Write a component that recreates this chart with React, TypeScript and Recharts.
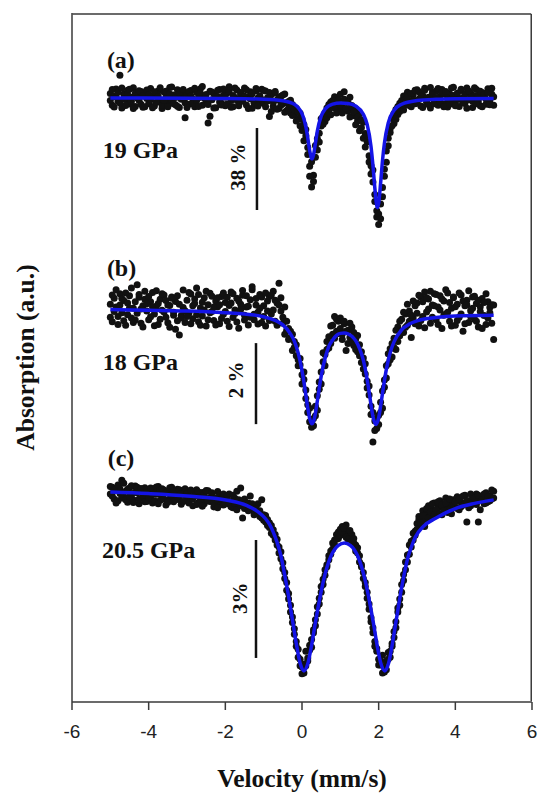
import React from 'react';
import {
  ComposedChart,
  Line,
  Scatter,
  XAxis,
  YAxis,
  ReferenceLine,
  ReferenceDot,
} from 'recharts';

// Source velocity of each channel (mm/s); both halves of the sweep share it
const velocity = [
  -5.0, -4.95, -4.9, -4.85, -4.8, -4.75, -4.7, -4.65, -4.6, -4.55,
  -4.5, -4.45, -4.4, -4.35, -4.3, -4.25, -4.2, -4.15, -4.1, -4.05,
  -4.0, -3.95, -3.9, -3.85, -3.8, -3.75, -3.7, -3.65, -3.6, -3.55,
  -3.5, -3.45, -3.4, -3.35, -3.3, -3.25, -3.2, -3.15, -3.1, -3.05,
  -3.0, -2.95, -2.9, -2.85, -2.8, -2.75, -2.7, -2.65, -2.6, -2.55,
  -2.5, -2.45, -2.4, -2.35, -2.3, -2.25, -2.2, -2.15, -2.1, -2.05,
  -2.0, -1.95, -1.9, -1.85, -1.8, -1.75, -1.7, -1.65, -1.6, -1.55,
  -1.5, -1.45, -1.4, -1.35, -1.3, -1.25, -1.2, -1.15, -1.1, -1.05,
  -1.0, -0.95, -0.9, -0.85, -0.8, -0.75, -0.7, -0.65, -0.6, -0.55,
  -0.5, -0.45, -0.4, -0.35, -0.3, -0.25, -0.2, -0.15, -0.1, -0.05,
  0.0, 0.05, 0.1, 0.15, 0.2, 0.25, 0.3, 0.35, 0.4, 0.45,
  0.5, 0.55, 0.6, 0.65, 0.7, 0.75, 0.8, 0.85, 0.9, 0.95,
  1.0, 1.05, 1.1, 1.15, 1.2, 1.25, 1.3, 1.35, 1.4, 1.45,
  1.5, 1.55, 1.6, 1.65, 1.7, 1.75, 1.8, 1.85, 1.9, 1.95,
  2.0, 2.05, 2.1, 2.15, 2.2, 2.25, 2.3, 2.35, 2.4, 2.45,
  2.5, 2.55, 2.6, 2.65, 2.7, 2.75, 2.8, 2.85, 2.9, 2.95,
  3.0, 3.05, 3.1, 3.15, 3.2, 3.25, 3.3, 3.35, 3.4, 3.45,
  3.5, 3.55, 3.6, 3.65, 3.7, 3.75, 3.8, 3.85, 3.9, 3.95,
  4.0, 4.05, 4.1, 4.15, 4.2, 4.25, 4.3, 4.35, 4.4, 4.45,
  4.5, 4.55, 4.6, 4.65, 4.7, 4.75, 4.8, 4.85, 4.9, 4.95,
  5.0,
];

// Relative transmission (%) per channel, 19 GPa (first and second half)
const spectrumA = [
  2.1, -3.4, 0.8, 4.2, -1.5, 10.5, -4.6, 1.9, -0.7, 3.6, -2.8, 0.3, 4.8, -3.9, 1.2, -1.1, 3.0, -4.3, 2.5, -0.2,
  -2.6, 4.4, 0.9, -3.7, 1.6, 3.3, -1.9, -4.8, 2.8, 0.4, -2.2, 4.9, -0.9, 1.4, -3.1, 3.8, -4.4, 0.6, 2.2, -9.2,
  1.7, -2.9, 3.5, -0.5, -4.1, 2.6, 0.1, 4.3, -3.3, 1.0, -1.8, -11.6, 3.1, -0.8, 2.0, -4.5, 0.7, 3.9, -2.4, 1.3,
  -3.6, 2.4, 5.2, -1.2, -4.0, 0.2, 3.7, -2.7, 1.8, -0.4, 4.6, -3.2, 0.5, 2.9, -4.7, -1.6, 3.4, 0.0, -2.0, 4.1,
  -2.5, 3.2, -1.4, -8.6, 1.5, -3.8, 2.3, -0.9, -4.9, 0.8, -2.7, 1.9, -5.8, -1.6, -6.9, -3.0, -7.8, -4.7, -9.6, -7.1,
  -9.8, -12.4, -17.5, -22.9, -31.6, -41.2, -35.8, -27.4, -24.1, -16.3, -13.0, -8.7, -10.9, -4.6, -6.2, -1.8, -3.9, 0.6, -2.2, -5.1,
  1.8, -4.4, 2.9, -1.3, -6.1, 0.4, -3.5, -8.2, -5.0, -10.6, -7.3, -13.8, -11.2, -16.5, -20.3, -26.8, -31.4, -38.9, -44.7, -52.3,
  -58.6, -49.1, -41.5, -33.0, -24.6, -18.7, -14.2, -9.5, -11.8, -5.3, -7.6, -2.4, -4.8, 0.9, -3.1, 2.7, -1.7, -4.0, 1.4, -2.6,
  3.8, -0.6, -3.7, 1.1, 4.5, -2.1, 0.3, -4.6, 2.4, -1.0, 3.2, -3.4, 0.7, 4.0, -2.8, 1.6, -4.2, 2.0, -0.3, 5.0,
  -1.9, 1.3, -3.9, 3.5, 0.1, -2.5, 4.7, -0.8, 2.3, -4.4, 1.0, 3.9, -1.4, -3.6, 2.6, 0.5, -2.9, 4.3, -1.1, 1.7,
  -3.3,
];
const spectrumA2 = [
  -1.2, 3.9, -4.2, 0.5, 2.7, -2.3, 4.6, -0.4, -3.5, 1.8, 4.1, -1.6, -4.9, 2.2, 0.0, 3.4, -2.9, 1.1, -4.0, 3.7,
  1.5, -0.8, -4.5, 2.9, -2.0, 0.7, 4.8, -3.3, -1.0, 3.1, -4.1, 1.9, 5.1, -2.6, 0.2, -3.8, 2.4, -0.6, 4.0, -2.2,
  -4.4, 3.0, 0.9, -2.5, 4.5, -1.3, -3.9, 2.1, 5.3, -0.1, 1.6, -3.0, -8.4, 2.8, -4.6, 0.6, 3.6, -1.8, -3.2, 4.2,
  0.4, -2.8, 3.3, -4.3, 1.2, 4.7, -0.9, -3.6, 2.5, -1.5, 0.8, 3.8, -4.8, -0.3, 2.0, -2.4, 4.4, -3.7, 1.0, -0.7,
  3.5, -4.0, 0.1, 2.6, -6.3, -1.9, 3.0, -5.2, 0.3, -3.4, 1.4, -6.6, -2.2, -4.8, -1.0, -8.1, -5.5, -10.7, -6.4, -12.9,
  -15.1, -19.8, -14.6, -26.2, -36.3, -29.5, -38.7, -22.0, -18.9, -20.4, -9.6, -12.2, -6.8, -9.1, -3.0, -7.7, -1.1, -4.6, -6.9, -0.8,
  -3.2, -7.0, -0.6, -4.9, -2.0, -8.8, -4.1, -6.6, -12.4, -8.9, -15.2, -10.1, -18.6, -22.7, -17.4, -29.6, -35.2, -33.4, -47.9, -55.1,
  -53.7, -55.9, -45.8, -36.2, -29.8, -22.1, -16.0, -12.9, -7.2, -9.8, -3.9, -6.3, -1.2, -5.6, -2.0, 0.3, -3.5, 2.1, -0.9, 3.6,
  -2.3, 2.9, 0.8, -4.4, 3.6, -0.2, -3.0, 4.9, 1.5, -2.6, 0.2, 4.4, -1.7, 2.7, -4.1, 3.0, -0.5, -2.9, 4.6, 1.2,
  -3.6, 2.2, -0.6, 4.1, -2.0, 1.8, -4.7, 3.3, 0.4, -1.5, 4.8, -2.7, 0.9, 3.1, -4.0, 1.6, -0.4, 2.5, -3.1, 4.5,
  0.6,
];

// Relative transmission (%) per channel, 18 GPa (first and second half)
const spectrumB = [
  0.12, -0.31, 0.27, 0.05, -0.18, 0.38, -0.09, 0.21, -0.4, 0.15, 0.33, -0.22, 0.02, -0.27, 0.6, 0.29, -0.35, 0.08, 0.44, -0.05,
  -0.26, 0.18, 0.41, -0.12, 0.07, -0.38, 0.24, -0.03, 0.35, -0.2, 0.1, -0.45, 0.3, -0.08, 0.19, -0.29, -0.64, -0.16, 0.04, -0.33,
  0.22, -0.1, 0.37, -0.24, 0.14, 0.52, -0.31, 0.03, -0.17, 0.28, -0.42, 0.11, 0.39, -0.06, -0.28, 0.2, 0.06, -0.36, 0.31, -0.13,
  0.16, -0.3, 0.09, 0.42, -0.21, -0.02, 0.27, -0.47, 0.12, 0.34, -0.15, 0.05, -0.39, 0.23, 0.48, -0.26, 0.1, -0.08, 0.36, -0.33,
  0.08, -0.42, 0.2, 0.31, -0.12, 0.44, -0.3, 0.15, 0.64, -0.05, -0.35, 0.05, -0.52, -0.48, -0.7, -0.62, -0.95, -0.88, -1.25, -1.38,
  -1.62, -1.74, -2.21, -2.36, -2.78, -2.92, -2.7, -2.63, -2.14, -1.98, -1.55, -1.3, -1.12, -0.8, -0.96, -0.42, -0.62, -0.18, -0.55, -0.3,
  -0.48, -0.75, -0.36, -1.02, -0.52, -0.7, -0.44, -0.9, -0.74, -1.05, -0.88, -1.32, -1.21, -1.6, -1.78, -2.12, -2.4, -3.28, -2.76, -2.95,
  -2.62, -2.55, -2.02, -1.93, -1.4, -1.35, -0.98, -1.18, -0.72, -1.0, -0.44, -0.66, -0.25, -0.58, -0.12, -0.4, -0.05, -0.7, -0.22, 0.08,
  0.15, -0.42, 0.3, -0.18, 0.42, -0.07, 0.25, -0.35, 0.1, 0.38, -0.26, 0.05, 0.33, -0.48, 0.2, -0.12, 0.4, -0.3, 0.02, 0.28,
  -0.4, 0.12, -0.2, 0.35, -0.55, 0.08, 0.22, -0.33, -0.04, 0.3, -0.25, 0.14, -0.44, 0.06, 0.26, -0.16, -0.38, 0.18, -0.09, 0.11,
  -0.75,
];
const spectrumB2 = [
  -0.2, 0.35, -0.06, 0.48, -0.38, 0.1, 0.26, -0.29, 0.4, -0.14, 0.03, 0.52, -0.33, 0.18, -0.1, 0.36, 0.0, -0.44, 0.24, 0.13,
  0.31, -0.19, 0.06, -0.41, 0.45, 0.14, -0.25, 0.38, -0.07, 0.21, -0.34, 0.09, 0.27, -0.15, -0.5, 0.33, 0.12, -0.22, 0.47, -0.04,
  -0.18, 0.41, -0.36, 0.08, 0.25, -0.14, 0.36, -0.4, 0.17, -0.02, 0.44, -0.26, -0.09, 0.32, 0.05, -0.39, 0.28, 0.11, -0.23, 0.4,
  -0.06, 0.29, -0.43, 0.15, 0.38, -0.11, -0.32, 0.2, -0.01, 0.46, -0.27, 0.33, 0.07, -0.2, 0.55, -0.13, 0.26, -0.37, 0.02, 0.3,
  -0.18, 0.4, -0.05, -0.28, 0.35, -0.02, 0.22, -0.4, 0.1, 0.28, -0.2, -0.62, -0.3, -0.75, -0.55, -1.02, -0.8, -1.15, -1.4, -1.22,
  -1.85, -1.55, -2.0, -2.55, -2.45, -2.8, -2.88, -2.4, -2.5, -1.8, -1.85, -1.08, -1.4, -1.0, -0.68, -0.85, -0.4, -0.72, -0.25, -0.6,
  -0.22, -0.62, -0.3, -0.55, -0.85, -0.35, -0.8, -0.58, -1.0, -0.65, -1.15, -1.05, -1.48, -1.35, -1.95, -1.9, -2.6, -2.55, -3.0, -2.7,
  -2.85, -2.3, -2.45, -1.75, -1.7, -1.1, -1.25, -0.85, -0.95, -0.52, -0.8, -0.3, -0.55, -0.08, -0.45, 0.12, -0.3, -0.15, 0.2, -0.36,
  -0.1, 0.34, -0.28, 0.18, -0.46, 0.28, 0.0, 0.44, -0.2, 0.08, 0.36, -0.38, -0.02, 0.25, -0.15, 0.48, -0.08, 0.16, -0.42, 0.3,
  0.06, -0.28, 0.4, -0.12, 0.2, -0.36, 0.1, 0.45, -0.18, 0.02, 0.32, -0.3, 0.22, -0.06, -0.48, 0.16, 0.38, -0.22, 0.04, -0.35,
  0.1,
];

// Relative transmission (%) per channel, 20.5 GPa (first and second half)
const spectrumC = [
  -0.05, 0.12, -0.18, 0.04, -0.22, 0.08, 0.3, -0.12, 0.02, -0.26, 0.1, -0.08, -0.2, 0.15, -0.02, -0.3, 0.06, -0.14, 0.11, -0.24,
  0.03, -0.16, -0.28, 0.09, -0.06, 0.14, -0.21, -0.1, 0.05, -0.33, 0.0, -0.17, 0.12, -0.25, -0.04, 0.07, -0.19, -0.31, 0.04, -0.09,
  -0.22, 0.02, -0.14, -0.35, -0.05, 0.06, -0.27, -0.12, -0.01, -0.3, -0.18, 0.03, -0.24, -0.09, -0.38, -0.15, 0.01, -0.26, -0.11, -0.33,
  -0.12, -0.3, -0.05, -0.24, -0.4, -0.16, 0.02, -0.33, 0.1, -0.66, -0.18, -0.37, -0.28, -0.1, -0.45, -0.35, -0.52, -0.3, -0.62, -0.2,
  -0.72, -0.6, -0.85, -0.78, -1.05, -0.96, -1.22, -1.2, -1.55, -1.52, -1.95, -2.05, -2.5, -2.58, -3.05, -3.18, -3.62, -3.8, -4.2, -4.25,
  -4.62, -4.38, -4.05, -4.22, -3.9, -3.75, -3.5, -3.4, -2.92, -2.85, -2.4, -2.35, -1.98, -1.85, -1.62, -1.5, -1.3, -1.22, -1.08, -1.02,
  -0.95, -0.88, -1.05, -0.84, -1.0, -1.12, -1.08, -1.3, -1.35, -1.55, -1.62, -1.9, -2.05, -2.4, -2.55, -2.98, -3.2, -3.58, -3.8, -4.05,
  -4.25, -4.4, -4.15, -4.58, -4.3, -4.08, -4.2, -3.85, -3.55, -3.3, -2.95, -2.72, -2.35, -2.1, -1.78, -1.6, -1.35, -1.25, -1.05, -1.1,
  -0.8, -0.62, -0.85, -0.48, -0.7, -0.55, -0.35, -0.62, -0.45, -0.28, -0.52, -0.4, -0.22, -0.58, -0.36, -0.15, -0.44, -0.3, -0.55, -0.2,
  -0.38, -0.12, -0.45, -0.26, -0.33, -0.08, -0.76, -0.22, -0.35, -0.15, -0.28, -0.05, -0.76, -0.2, -0.12, -0.3, -0.02, -0.25, -0.1, -0.18,
  0.02,
];
const spectrumC2 = [
  0.14, -0.1, 0.05, -0.28, 0.18, -0.04, -0.15, 0.22, -0.2, 0.07, -0.12, 0.16, -0.27, 0.0, 0.12, -0.18, 0.09, -0.08, -0.25, 0.06,
  -0.14, 0.1, -0.05, -0.22, 0.13, -0.3, 0.04, 0.08, -0.18, -0.02, -0.26, 0.11, -0.08, 0.02, -0.2, -0.12, 0.06, -0.04, -0.24, 0.08,
  -0.04, -0.28, 0.05, -0.18, -0.1, -0.32, 0.0, -0.2, -0.36, -0.06, 0.04, -0.22, -0.14, -0.02, -0.28, -0.2, -0.4, -0.08, -0.18, -0.05,
  -0.3, -0.1, -0.26, -0.38, -0.08, -0.28, -0.45, -0.2, -0.35, -0.22, -0.42, -0.3, -0.48, -0.4, -0.3, -0.58, -0.42, -0.55, -0.48, -0.66,
  -0.58, -0.76, -0.7, -0.9, -0.85, -1.1, -1.08, -1.35, -1.4, -1.7, -1.8, -2.2, -2.3, -2.72, -2.88, -3.32, -3.48, -3.92, -4.0, -4.42,
  -4.45, -4.6, -4.42, -4.3, -4.02, -3.95, -3.58, -3.25, -3.1, -2.7, -2.55, -2.22, -2.12, -1.9, -1.72, -1.58, -1.45, -1.35, -1.2, -1.18,
  -1.1, -1.02, -0.92, -1.15, -1.2, -0.98, -1.25, -1.18, -1.5, -1.42, -1.78, -1.85, -2.2, -2.3, -2.7, -2.85, -3.3, -3.45, -3.92, -3.98,
  -4.4, -4.3, -4.6, -4.45, -4.52, -4.25, -4.05, -3.92, -3.7, -3.45, -3.05, -2.88, -2.55, -2.25, -1.98, -1.78, -1.58, -1.4, -1.22, -1.0,
  -0.95, -0.7, -0.78, -0.6, -0.88, -0.42, -0.66, -0.5, -0.3, -0.58, -0.46, -0.25, -0.55, -0.33, -0.48, -0.28, -0.52, -0.18, -0.4, -0.35,
  -0.25, -0.42, -0.18, -0.38, -0.1, -0.3, -0.22, -0.4, -0.05, -0.26, -0.15, -0.32, -0.08, -0.45, -0.2, -0.05, -0.28, -0.12, -0.22, 0.05,
  -0.15,
];

// Fitted doublets: [velocity, relative transmission %]
const fitA = [
  [-5, 0], [-3, -0.1], [-2, -0.2], [-1, -0.52], [-0.5, -1.23], [-0.2, -2.91], [-0.1, -4.4], [0, -7.2],
  [0.05, -9.7], [0.1, -13.3], [0.15, -18.4], [0.2, -24.3], [0.26, -28.2], [0.3, -26.4], [0.35, -20.9],
  [0.4, -15.3], [0.5, -8.4], [0.6, -5.2], [0.8, -2.8], [1.0, -2.3], [1.2, -2.5], [1.4, -3.7], [1.6, -7.5],
  [1.7, -12.2], [1.8, -22.4], [1.85, -31.1], [1.9, -41.7], [1.95, -49.9], [1.97, -50.8], [2.0, -48.8],
  [2.05, -39.6], [2.1, -29.0], [2.15, -20.9], [2.25, -11.5], [2.4, -5.7], [2.6, -2.9], [3.0, -1.2],
  [3.5, -0.6], [4, -0.35], [5, -0.2],
];

const fitB = [
  [-5, -0.01], [-4, -0.03], [-3, -0.05], [-2, -0.09], [-1.5, -0.12], [-1, -0.19], [-0.7, -0.28],
  [-0.5, -0.39], [-0.3, -0.61], [-0.2, -0.79], [-0.1, -1.08], [0, -1.52], [0.05, -1.8], [0.1, -2.12],
  [0.15, -2.44], [0.2, -2.7], [0.26, -2.83], [0.3, -2.78], [0.35, -2.57], [0.4, -2.27], [0.5, -1.66],
  [0.6, -1.22], [0.7, -0.92], [0.8, -0.76], [0.9, -0.65], [1.0, -0.6], [1.1, -0.59], [1.2, -0.61],
  [1.3, -0.67], [1.4, -0.78], [1.5, -0.97], [1.6, -1.26], [1.7, -1.74], [1.75, -2.04], [1.8, -2.36],
  [1.85, -2.65], [1.93, -2.85], [2.0, -2.68], [2.05, -2.4], [2.1, -2.08], [2.2, -1.49], [2.3, -1.08],
  [2.4, -0.81], [2.6, -0.51], [2.8, -0.37], [3.0, -0.29], [3.5, -0.21], [4, -0.17], [5, -0.15],
];

const fitC = [
  [-5, 0], [-4, -0.04], [-3, -0.1], [-1.95, -0.21], [-1.45, -0.34], [-1.15, -0.5], [-0.95, -0.68],
  [-0.85, -0.82], [-0.75, -1.02], [-0.65, -1.28], [-0.55, -1.62], [-0.45, -2.12], [-0.35, -2.65],
  [-0.25, -3.25], [-0.15, -3.85], [-0.05, -4.35], [0.05, -4.55], [0.15, -4.37], [0.25, -3.9],
  [0.35, -3.32], [0.45, -2.78], [0.55, -2.3], [0.65, -1.92], [0.75, -1.64], [0.85, -1.46], [0.95, -1.36],
  [1.105, -1.3], [1.26, -1.36], [1.36, -1.46], [1.46, -1.64], [1.56, -1.92], [1.66, -2.3], [1.76, -2.78],
  [1.86, -3.32], [1.96, -3.9], [2.06, -4.37], [2.16, -4.55], [2.26, -4.35], [2.36, -3.85], [2.46, -3.25],
  [2.56, -2.65], [2.66, -2.12], [2.76, -1.68], [2.86, -1.38], [2.96, -1.14], [3.16, -0.88], [3.5, -0.66],
  [4.0, -0.42], [4.5, -0.29], [5.0, -0.2],
];

const velocityTicks = [-6, -4, -2, 0, 2, 4, 6];
const panelTags = ['(a)', '(b)', '(c)'];
const pressures = ['19 GPa', '18 GPa', '20.5 GPa'];
const scaleBarPercents = [38, 2, 3];
const scaleBarLabels = ['38 %', '2 %', '3%'];

const SERIF = "'Liberation Serif', 'Times New Roman', serif";
const SANS = "'Liberation Sans', Arial, sans-serif";
const AXIS_COLOR = '#3a3a3a';
const FIT_COLOR = '#1414e6';
const V_DOMAIN = [-6, 6];

const toPoints = (values: number[]) => values.map((y, i) => ({ v: velocity[i], y }));
const toFit = (pairs: number[][]) => pairs.map(([v, y]) => ({ v, y }));

// Each spectrum has its own vertical scale; the domains stack them in one frame.
const panels = [
  {
    axis: 'a',
    domain: [-279.9, 39.4],
    points: [...toPoints(spectrumA), ...toPoints(spectrumA2)],
    fit: toFit(fitA),
    tagAt: [-5.09, 17.6],
    pressureAt: [-5.2, -24.1],
    barAt: [-1.175, -13.9],
    barLabelAt: [-1.67, -32.0],
  },
  {
    axis: 'b',
    domain: [-9.7, 7.31],
    points: [...toPoints(spectrumB), ...toPoints(spectrumB2)],
    fit: toFit(fitB),
    tagAt: [-5.09, 1.01],
    pressureAt: [-5.2, -1.31],
    barAt: [-1.2, -0.84],
    barLabelAt: [-1.73, -1.75],
  },
  {
    axis: 'c',
    domain: [-5.34, 12.18],
    points: [...toPoints(spectrumC), ...toPoints(spectrumC2)],
    fit: toFit(fitC),
    tagAt: [-5.07, 0.86],
    pressureAt: [-5.22, -1.47],
    barAt: [-1.2, -1.22],
    barLabelAt: [-1.62, -2.7],
  },
];

// Closing edges of the frame, kept fully inside the plot rectangle
const [FRAME_BOTTOM, FRAME_TOP] = panels[0].domain;
const EDGE_V = 5.98;
const EDGE_V_START = -5.99;
const EDGE_TOP = FRAME_TOP - 0.5;
const EDGE_BOTTOM = FRAME_BOTTOM + 0.5;

const Dot = (p: any) => <circle cx={p.cx} cy={p.cy} r={3.5} fill="#111" />;

const textShape = (text: string, size: number, anchor: 'start' | 'middle', rotate = false) =>
  (p: any) => (
    <text
      x={p.cx}
      y={p.cy}
      textAnchor={anchor}
      dominantBaseline="central"
      fontFamily={SERIF}
      fontWeight="bold"
      fontSize={size}
      fill="#111"
      transform={rotate ? `rotate(-90, ${p.cx}, ${p.cy})` : undefined}
    >
      {text}
    </text>
  );

const yTitle = (props: any) => {
  const vb = props.viewBox;
  const x = vb.x + 25;
  const y = vb.y + vb.height / 2;
  return (
    <text
      x={x}
      y={y}
      textAnchor="middle"
      dominantBaseline="central"
      fontFamily={SERIF}
      fontWeight="bold"
      fontSize={25.5}
      fill="#111"
      transform={`rotate(-90, ${x}, ${y})`}
    >
      Absorption (a.u.)
    </text>
  );
};

const xTitle = (props: any) => {
  const vb = props.viewBox;
  return (
    <text
      x={vb.x + vb.width / 2}
      y={vb.y + 76}
      textAnchor="middle"
      dominantBaseline="central"
      fontFamily={SERIF}
      fontWeight="bold"
      fontSize={25.5}
      fill="#111"
    >
      Velocity (mm/s)
    </text>
  );
};

export default function App() {
  return (
    <div style={{ position: 'absolute', left: 0, top: 0 }}>
      <ComposedChart width={540} height={793} margin={{ top: 13, right: 8, bottom: 0, left: 0 }}>
        <XAxis
          dataKey="v"
          type="number"
          domain={V_DOMAIN}
          ticks={velocityTicks}
          allowDataOverflow
          height={91}
          stroke={AXIS_COLOR}
          strokeWidth={1.5}
          tickSize={8}
          tickMargin={15}
          tick={{ fill: '#222', fontSize: 19, fontFamily: SANS }}
          label={xTitle}
        />
        {panels.map((p, i) => (
          <YAxis
            key={p.axis}
            yAxisId={p.axis}
            type="number"
            domain={p.domain}
            allowDataOverflow
            hide={i > 0}
            width={72}
            tick={false}
            tickLine={false}
            stroke={AXIS_COLOR}
            strokeWidth={1.5}
            label={i === 0 ? yTitle : undefined}
          />
        ))}
        <ReferenceLine
          yAxisId="a"
          segment={[
            { x: EDGE_V_START, y: EDGE_TOP },
            { x: EDGE_V, y: EDGE_TOP },
          ]}
          stroke={AXIS_COLOR}
          strokeWidth={1.5}
          ifOverflow="visible"
        />
        <ReferenceLine
          yAxisId="a"
          segment={[
            { x: EDGE_V, y: EDGE_BOTTOM },
            { x: EDGE_V, y: EDGE_TOP },
          ]}
          stroke={AXIS_COLOR}
          strokeWidth={1.5}
          ifOverflow="visible"
        />
        {/* measured channels */}
        {panels.map((p) => (
          <Scatter
            key={`pts-${p.axis}`}
            yAxisId={p.axis}
            data={p.points}
            dataKey="y"
            shape={Dot}
            isAnimationActive={false}
          />
        ))}
        {/* fitted curves drawn over the data */}
        {panels.map((p) => (
          <Line
            key={`fit-${p.axis}`}
            yAxisId={p.axis}
            data={p.fit}
            dataKey="y"
            type="monotone"
            stroke={FIT_COLOR}
            strokeWidth={3.5}
            dot={false}
            activeDot={false}
            isAnimationActive={false}
            zIndex={700}
          />
        ))}
        {panels.map((p, i) => (
          <ReferenceLine
            key={`bar-${p.axis}`}
            yAxisId={p.axis}
            segment={[
              { x: p.barAt[0], y: p.barAt[1] },
              { x: p.barAt[0], y: p.barAt[1] - scaleBarPercents[i] },
            ]}
            stroke="#111"
            strokeWidth={2.5}
          />
        ))}
        {panels.map((p, i) => (
          <ReferenceDot
            key={`tag-${p.axis}`}
            yAxisId={p.axis}
            x={p.tagAt[0]}
            y={p.tagAt[1]}
            r={0}
            shape={textShape(panelTags[i], 24, 'start')}
          />
        ))}
        {panels.map((p, i) => (
          <ReferenceDot
            key={`pressure-${p.axis}`}
            yAxisId={p.axis}
            x={p.pressureAt[0]}
            y={p.pressureAt[1]}
            r={0}
            shape={textShape(pressures[i], 24, 'start')}
          />
        ))}
        {panels.map((p, i) => (
          <ReferenceDot
            key={`barlabel-${p.axis}`}
            yAxisId={p.axis}
            x={p.barLabelAt[0]}
            y={p.barLabelAt[1]}
            r={0}
            shape={textShape(scaleBarLabels[i], 21, 'middle', true)}
          />
        ))}
      </ComposedChart>
    </div>
  );
}
